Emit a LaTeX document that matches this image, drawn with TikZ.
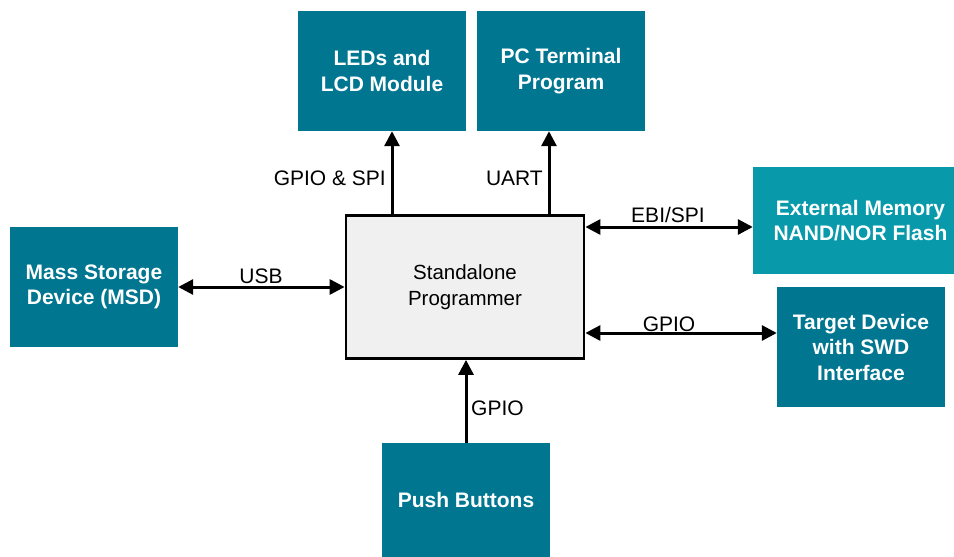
\documentclass[tikz,border=0pt]{standalone}
\usepackage{fontspec}
\setmainfont{Liberation Sans}
\usetikzlibrary{arrows.meta}
\definecolor{teal1}{RGB}{0,118,145}
\definecolor{teal2}{RGB}{8,153,171}
\definecolor{progfill}{RGB}{240,240,240}
\begin{document}
\begin{tikzpicture}[x=1pt,y=-1pt,
  blk/.style={fill=teal1,text=white,font=\fontsize{21}{25.5}\selectfont\bfseries,align=center,inner sep=0pt,minimum width=168pt,minimum height=120pt},
  prg/.style={fill=progfill,draw=black,line width=2.8pt,font=\fontsize{20.5}{26}\selectfont,align=center,inner sep=0pt,minimum width=238pt,minimum height=143pt},
  lbl/.style={font=\fontsize{21}{24}\selectfont,inner sep=0pt},
  conn/.style={line width=3pt,-{Triangle[length=15pt,width=15pt]}},
  bconn/.style={line width=3pt,{Triangle[length=15pt,width=15pt]}-{Triangle[length=15pt,width=15pt]}}]
\useasboundingbox (0,0) rectangle (954,557);
\node[blk] (leds) at (382,71) {LEDs and\\LCD Module};
\node[blk] (pc) at (561,71) {PC Terminal\\Program};
\node[blk] (msd) at (94,287) {Mass Storage\\Device (MSD)};
\node[prg] (prog) at (465,287) {Standalone\\Programmer};
\node[blk,fill=teal2,minimum width=201pt,minimum height=107pt] (ext) at (853.5,220.5) {\hspace*{14pt}External Memory\\\hspace*{14pt}NAND/NOR Flash};
\node[blk] (tgt) at (861,347) {Target Device\\with SWD\\Interface};
\node[blk,minimum height=114pt] (push) at (466,500) {Push Buttons};
\coordinate (c1) at (392,0);
\coordinate (c2) at (549,0);
\coordinate (c3) at (0,227);
\coordinate (c4) at (0,333);
\draw[conn] (prog.north -| c1) -- (leds.south -| c1);
\draw[conn] (prog.north -| c2) -- (pc.south -| c2);
\draw[bconn] (msd.east) -- (prog.west |- msd.east);
\draw[bconn] (prog.east |- c3) -- (ext.west |- c3);
\draw[bconn] (prog.east |- c4) -- (tgt.west |- c4);
\draw[conn] (push.north) -- (push.north |- prog.south);
\node[lbl,anchor=east] (l1) at (386,178) {GPIO \& SPI};
\node[lbl,anchor=east] (l2) at (543,178) {UART};
\node[lbl] (l3) at (261,276) {USB};
\node[lbl] (l4) at (668,215) {EBI/SPI};
\node[lbl] (l5) at (669,324) {GPIO};
\node[lbl,anchor=west] (l6) at (471,408) {GPIO};
\end{tikzpicture}
\end{document}
